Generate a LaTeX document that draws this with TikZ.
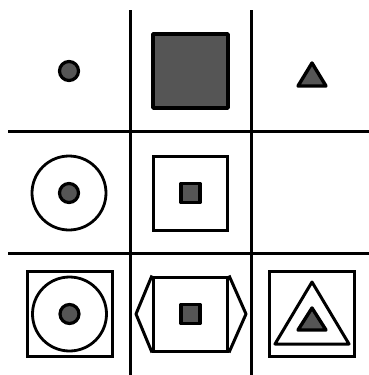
\documentclass[tikz,border=0pt]{standalone}
\usetikzlibrary{calc,positioning}
\definecolor{shapegray}{HTML}{555555}

\begin{document}
\begin{tikzpicture}[
    x=1pt, y=-1pt,
    gridline/.style={line width=3pt, draw=black},
    outline/.style={draw=black, line width=3pt, line join=round},
    solid shape/.style={draw=black, fill=shapegray, line width=3.4pt, line join=round},
    dot/.style={circle, draw=black, fill=shapegray, line width=3.2pt, minimum size=19pt, inner sep=0pt},
    bigring/.style={circle, draw=black, line width=2.8pt, minimum size=74pt, inner sep=0pt},
    frame/.style={rectangle, draw=black, line width=3pt, inner sep=0pt}
]
  \useasboundingbox (0,0) rectangle (369,375);

  % grid
  \foreach \gx in {130,251} {
    \draw[gridline] (\gx,10) -- (\gx,375);
  }
  \foreach \gy in {131,253} {
    \draw[gridline] (8,\gy) -- (369,\gy);
  }

  % top row
  \node[dot] (dot-a) at (69,71) {};
  \draw[solid shape] (153,34) rectangle (228,108);
  \draw[solid shape] (312,63) -- (326,86) -- (298,86) -- cycle;

  % middle row
  \node[bigring] (ring-b) at (69,193) {};
  \node[dot] (dot-b) at (ring-b.center) {};
  \node[frame, minimum size=74pt] (box-b) at (190.5,193) {};
  \node[solid shape, rectangle, minimum size=19pt, inner sep=0pt] (sq-b) at (box-b.center) {};

  % bottom row
  \node[frame, minimum size=85pt] (box-c) at (69.5,314) {};
  \node[bigring] (ring-c) at (box-c.center) {};
  \node[dot] (dot-c) at (box-c.center) {};

  \node[frame, minimum size=74pt] (box-d) at (190.5,314) {};
  \draw[outline] (box-d.north west) -- (136,314) -- (box-d.south west);
  \draw[outline] (box-d.north east) -- (246,314) -- (box-d.south east);
  \node[solid shape, rectangle, minimum size=19pt, inner sep=0pt] (sq-d) at (box-d.center) {};

  \node[frame, minimum size=85pt] (box-e) at (311.5,314) {};
  \draw[outline] (312,282) -- (349,344) -- (275,344) -- cycle;
  \draw[solid shape] (312,308) -- (326,330) -- (298,330) -- cycle;
\end{tikzpicture}
\end{document}
